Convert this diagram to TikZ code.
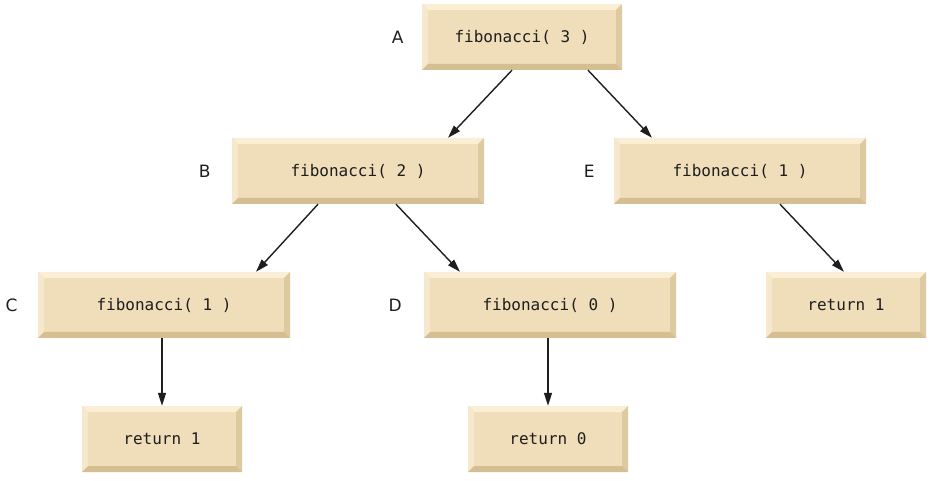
\documentclass[tikz,border=0pt]{standalone}
\usepackage{fontspec}
\setmainfont{DejaVu Sans}
\setmonofont{DejaVu Sans Mono}
\usetikzlibrary{arrows.meta,positioning}
\definecolor{boxfill}{RGB}{240,222,186}
\definecolor{boxtop}{RGB}{250,238,212}
\definecolor{boxleft}{RGB}{246,232,204}
\definecolor{boxright}{RGB}{222,202,160}
\definecolor{boxbottom}{RGB}{212,190,146}
\definecolor{inkcol}{RGB}{30,30,30}
\tikzset{
  callbox/.style={fill=boxfill, minimum width=252pt, minimum height=66pt, inner sep=0pt,
    font=\ttfamily\fontsize{16}{19}\selectfont, text=inkcol,
    path picture={
      \fill[boxtop] (path picture bounding box.north west) -- (path picture bounding box.north east)
        -- ([xshift=-6pt,yshift=-6pt]path picture bounding box.north east)
        -- ([xshift=6pt,yshift=-6pt]path picture bounding box.north west) -- cycle;
      \fill[boxleft] (path picture bounding box.north west) -- (path picture bounding box.south west)
        -- ([xshift=6pt,yshift=6pt]path picture bounding box.south west)
        -- ([xshift=6pt,yshift=-6pt]path picture bounding box.north west) -- cycle;
      \fill[boxright] (path picture bounding box.north east) -- (path picture bounding box.south east)
        -- ([xshift=-6pt,yshift=6pt]path picture bounding box.south east)
        -- ([xshift=-6pt,yshift=-6pt]path picture bounding box.north east) -- cycle;
      \fill[boxbottom] (path picture bounding box.south west) -- (path picture bounding box.south east)
        -- ([xshift=-6pt,yshift=6pt]path picture bounding box.south east)
        -- ([xshift=6pt,yshift=6pt]path picture bounding box.south west) -- cycle;
    }},
  retbox/.style={callbox, minimum width=160pt},
  lbl/.style={font=\fontsize{17}{20}\selectfont, text=inkcol, inner sep=0pt},
  callarrow/.style={-{Triangle[length=13pt,width=8pt]}, line width=1.4pt, inkcol}
}
\begin{document}
\begin{tikzpicture}[x=1pt,y=-1pt]
  \useasboundingbox (0,0) rectangle (930,481);
  % calls
  \node[callbox, minimum width=200pt] (fibA) at (522,37) {fibonacci( 3 )};
  \node[callbox] (fibB) at (358,171) {fibonacci( 2 )};
  \node[callbox] (fibE) at (740,171) {fibonacci( 1 )};
  \node[callbox] (fibC) at (164,305) {fibonacci( 1 )};
  \node[callbox] (fibD) at (550,305) {fibonacci( 0 )};
  % returns
  \node[retbox] (retE) at (846,305) {return 1};
  \node[retbox] (retC) at (162,439) {return 1};
  \node[retbox] (retD) at (548,439) {return 0};
  % letters
  \node[lbl, left=18pt of fibA] (labA) {A};
  \node[lbl, left=21pt of fibB] (labB) {B};
  \node[lbl, left=19pt of fibE] (labE) {E};
  \node[lbl, left=20pt of fibC] (labC) {C};
  \node[lbl, left=22pt of fibD] (labD) {D};

  \draw[callarrow] ([xshift=-10pt]fibA.south) -- ([xshift=90pt]fibB.north);
  \draw[callarrow] ([xshift=66pt]fibA.south) -- ([xshift=-88pt]fibE.north);
  \draw[callarrow] ([xshift=-40pt]fibB.south) -- ([xshift=92pt]fibC.north);
  \draw[callarrow] ([xshift=38pt]fibB.south) -- ([xshift=-90pt]fibD.north);
  \draw[callarrow] ([xshift=40pt]fibE.south) -- ([xshift=-2pt]retE.north);
  \draw[callarrow] ([xshift=-2pt]fibC.south) -- (retC.north);
  \draw[callarrow] ([xshift=-2pt]fibD.south) -- (retD.north);
\end{tikzpicture}
\end{document}
